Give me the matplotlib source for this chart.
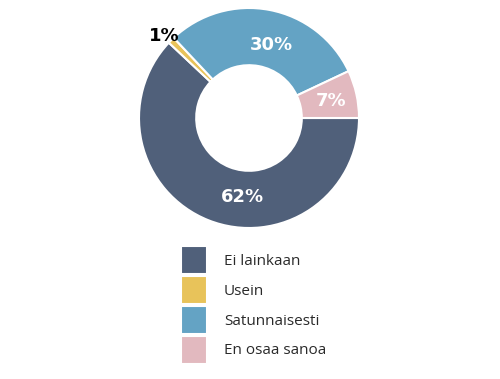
import numpy as np
import matplotlib
matplotlib.use("Agg")
import matplotlib.pyplot as plt

# data
labels = ['Ei lainkaan', 'Usein', 'Satunnaisesti', 'En osaa sanoa']
values = [62, 1, 30, 7]
pct_text = ['62%', '1%', '30%', '7%']

colors = ['#50607a', '#e8c35a', '#64a3c4', '#e2b9bf']
label_colors = ['white', 'black', 'white', 'white']
# label placement: (radius, angle shift in degrees) relative to wedge middle
label_pos = [(0.72, 17), (1.07, 1), (0.69, -6), (0.76, -1)]

fig = plt.figure(figsize=(5, 3.79), dpi=100)
ax = fig.add_axes([139 / 500, 1 - 228 / 379, 220 / 500, 220 / 379])

wedges, _ = ax.pie(values, colors=colors, startangle=0, counterclock=False,
                   radius=1, wedgeprops=dict(width=0.52, edgecolor='white', linewidth=1.5))
ax.set_xlim(-1, 1)
ax.set_ylim(-1, 1)
ax.set_aspect('equal')
ax.axis('off')

for w, t, c, (r, shift) in zip(wedges, pct_text, label_colors, label_pos):
    mid = np.deg2rad((w.theta1 + w.theta2) / 2 + shift)
    ax.text(r * np.cos(mid), r * np.sin(mid), t, color=c, ha='center', va='center',
            fontsize=13, fontweight='bold', family='DejaVu Sans')

fig.legend(wedges, labels, loc='upper left', bbox_to_anchor=(181 / 500, 1 - 246 / 379),
           frameon=False, handlelength=1.7, handleheight=2.45,
           labelspacing=0.12, handletextpad=1.1, borderpad=0, borderaxespad=0,
           prop={'family': 'Open Sans', 'size': 11}, labelcolor='#2a2a2a')

fig.savefig('out.png', dpi=100)
